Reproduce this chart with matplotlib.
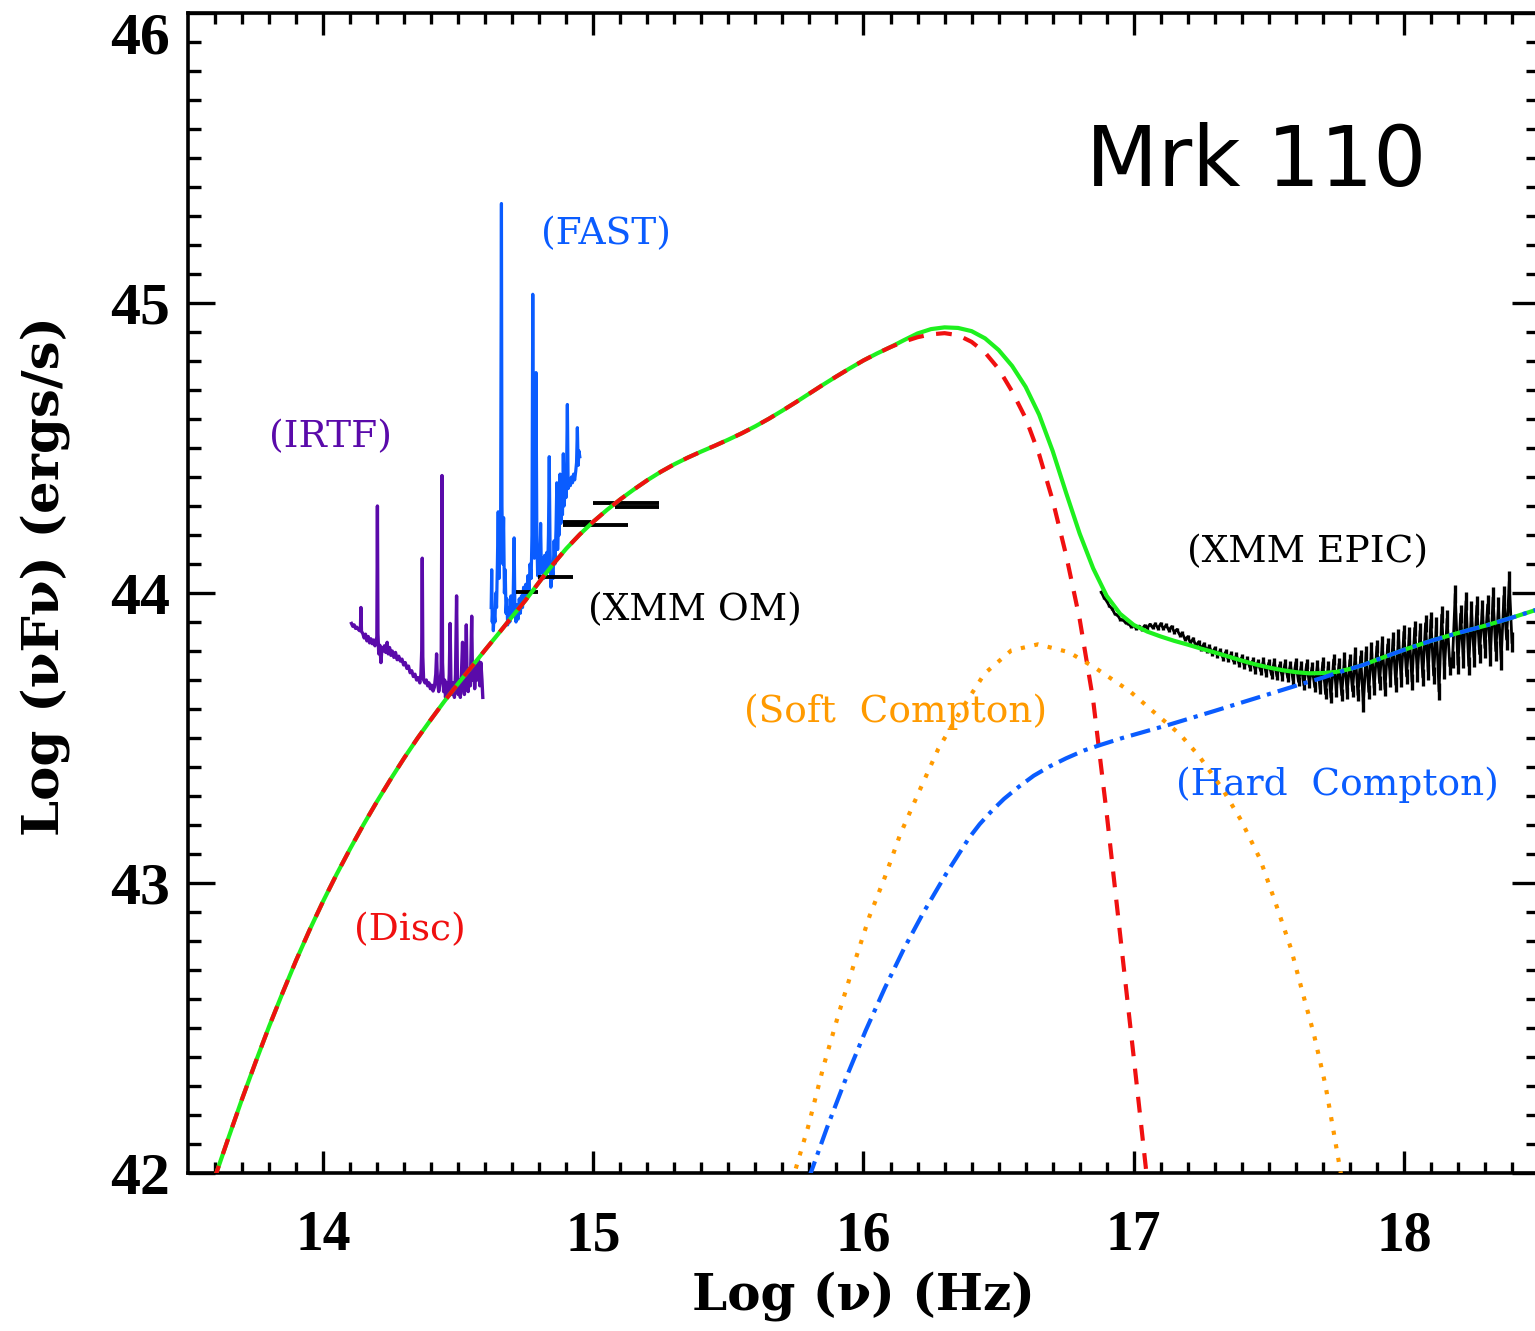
import numpy as np
import matplotlib
matplotlib.use("Agg")
import matplotlib.pyplot as plt

# ---------------- model components: log(nu) [Hz], log(nu F_nu) [erg/s] ----------------
disc_x = [13.595, 13.65, 13.70, 13.75, 13.80, 13.85, 13.90, 13.95, 14.00, 14.05,
          14.10, 14.15, 14.20, 14.25, 14.30, 14.35, 14.40, 14.45, 14.50, 14.55,
          14.60, 14.65, 14.70, 14.75, 14.80, 14.85, 14.90, 14.95, 15.00, 15.05,
          15.10, 15.15, 15.20, 15.25, 15.30, 15.35, 15.40, 15.45, 15.50, 15.55,
          15.60, 15.65, 15.70, 15.75, 15.80, 15.85, 15.90, 15.95, 16.00, 16.05,
          16.10, 16.15, 16.20, 16.25, 16.30, 16.35, 16.40, 16.45, 16.50, 16.55,
          16.60, 16.65, 16.70, 16.75, 16.80, 16.85, 16.90, 16.95, 17.00, 17.04,
          17.05]
disc_y = [41.973, 42.122, 42.255, 42.382, 42.505, 42.621, 42.733, 42.838, 42.937, 43.030,
          43.118, 43.202, 43.282, 43.358, 43.431, 43.500, 43.565, 43.628, 43.688, 43.746,
          43.804, 43.861, 43.919, 43.976, 44.038, 44.098, 44.153, 44.202, 44.246, 44.286,
          44.323, 44.357, 44.389, 44.418, 44.444, 44.467, 44.488, 44.508, 44.529, 44.551,
          44.575, 44.601, 44.629, 44.658, 44.688, 44.718, 44.747, 44.775, 44.802, 44.826,
          44.848, 44.867, 44.882, 44.892, 44.896, 44.889, 44.866, 44.829, 44.773, 44.695,
          44.603, 44.478, 44.320, 44.130, 43.910, 43.630, 43.240, 42.820, 42.400, 42.060,
          41.975]

total_x = disc_x[:51] + [16.15, 16.20, 16.25, 16.30, 16.35, 16.40, 16.45, 16.50, 16.55, 16.60,
                         16.65, 16.70, 16.75, 16.80, 16.85, 16.90, 16.95, 17.00, 17.05, 17.10,
                         17.15, 17.20, 17.25, 17.30, 17.35, 17.40, 17.45, 17.50, 17.55, 17.60,
                         17.65, 17.70, 17.75, 17.80, 17.85, 17.90, 17.95, 18.00, 18.10, 18.20,
                         18.30, 18.40, 18.50]
total_y = disc_y[:51] + [44.872, 44.895, 44.910, 44.916, 44.914, 44.903, 44.878, 44.838, 44.783, 44.711,
                         44.615, 44.490, 44.345, 44.205, 44.085, 43.990, 43.928, 43.890, 43.867, 43.850,
                         43.835, 43.822, 43.808, 43.795, 43.781, 43.767, 43.754, 43.743, 43.734, 43.727,
                         43.723, 43.724, 43.728, 43.738, 43.752, 43.770, 43.787, 43.804, 43.835, 43.862,
                         43.887, 43.915, 43.945]

soft_x = [15.735, 15.795, 15.852, 15.909, 15.966, 16.022, 16.079, 16.136, 16.206, 16.277,
          16.363, 16.448, 16.547, 16.646, 16.760, 16.859, 16.986, 17.085, 17.171, 17.241,
          17.326, 17.397, 17.468, 17.524, 17.582, 17.624, 17.667, 17.709, 17.737, 17.770]
soft_y = [41.97, 42.159, 42.368, 42.552, 42.724, 42.885, 43.020, 43.168, 43.316, 43.463,
          43.599, 43.722, 43.802, 43.823, 43.796, 43.741, 43.661, 43.581, 43.513, 43.439,
          43.328, 43.217, 43.082, 42.934, 42.774, 42.626, 42.478, 42.306, 42.158, 41.98]

hard_x = [15.795, 15.866, 15.937, 16.008, 16.079, 16.150, 16.221, 16.306, 16.391, 16.430,
          16.476, 16.520, 16.575, 16.630, 16.689, 16.750, 16.816, 16.880, 16.958, 17.128,
          17.298, 17.468, 17.638, 17.700, 17.750, 17.800, 17.850, 17.900, 17.950, 18.000,
          18.100, 18.200, 18.300, 18.400, 18.500]
hard_y = [41.975, 42.159, 42.331, 42.491, 42.638, 42.774, 42.897, 43.032, 43.156, 43.203,
          43.250, 43.290, 43.332, 43.370, 43.402, 43.430, 43.457, 43.477, 43.500, 43.545,
          43.593, 43.642, 43.691, 43.708, 43.724, 43.738, 43.752, 43.770, 43.787, 43.804,
          43.835, 43.862, 43.887, 43.915, 43.945]

# ---------------- IRTF near-IR spectrum ----------------
irtf_x = [14.105, 14.110, 14.115, 14.120, 14.125, 14.130, 14.135, 14.138, 14.140, 14.142,
          14.147, 14.152, 14.157, 14.162, 14.167, 14.172, 14.177, 14.182, 14.187, 14.192,
          14.196, 14.199, 14.201, 14.203, 14.206, 14.210, 14.214, 14.218, 14.222, 14.227,
          14.232, 14.237, 14.241, 14.246, 14.251, 14.256, 14.262, 14.268, 14.274, 14.280,
          14.286, 14.292, 14.298, 14.304, 14.310, 14.316, 14.322, 14.328, 14.334, 14.340,
          14.346, 14.352, 14.358, 14.362, 14.365, 14.367, 14.369, 14.372, 14.377, 14.382,
          14.387, 14.392, 14.397, 14.402, 14.407, 14.412, 14.417, 14.420, 14.423, 14.428,
          14.433, 14.437, 14.440, 14.442, 14.446, 14.450, 14.453, 14.458, 14.463, 14.467,
          14.470, 14.473, 14.477, 14.482, 14.486, 14.490, 14.494, 14.497, 14.500, 14.504,
          14.508, 14.512, 14.516, 14.519, 14.523, 14.527, 14.530, 14.533, 14.537, 14.541,
          14.545, 14.550, 14.553, 14.557, 14.561, 14.566, 14.570, 14.575, 14.580, 14.584,
          14.588, 14.591]
irtf_y = [43.895, 43.885, 43.890, 43.878, 43.882, 43.875, 43.870, 43.872, 43.950, 43.868,
          43.860, 43.845, 43.858, 43.835, 43.850, 43.828, 43.842, 43.825, 43.838, 43.818,
          43.830, 43.850, 44.300, 43.860, 43.790, 43.820, 43.760, 43.812, 43.800, 43.818,
          43.795, 43.830, 43.790, 43.812, 43.785, 43.800, 43.778, 43.795, 43.770, 43.782,
          43.765, 43.772, 43.752, 43.760, 43.740, 43.748, 43.725, 43.732, 43.712, 43.720,
          43.700, 43.708, 43.690, 43.720, 43.800, 44.120, 43.780, 43.700, 43.690, 43.700,
          43.680, 43.690, 43.670, 43.682, 43.662, 43.676, 43.720, 43.790, 43.700, 43.660,
          43.690, 43.740, 44.405, 43.760, 43.660, 43.700, 43.640, 43.690, 43.650, 43.720,
          43.895, 43.700, 43.650, 43.690, 43.640, 43.720, 43.990, 43.720, 43.650, 43.700,
          43.640, 43.720, 43.830, 43.680, 43.650, 43.720, 43.890, 43.700, 43.660, 43.740,
          43.680, 43.920, 43.700, 43.760, 43.670, 43.750, 43.700, 43.770, 43.680, 43.760,
          43.700, 43.640]

# ---------------- FAST optical spectrum ----------------
fast_x = [14.622, 14.624, 14.626, 14.628, 14.630, 14.633, 14.636, 14.639, 14.642, 14.645,
          14.648, 14.651, 14.654, 14.657, 14.660, 14.662, 14.665, 14.668, 14.671, 14.674,
          14.677, 14.680, 14.683, 14.687, 14.691, 14.695, 14.699, 14.703, 14.707, 14.710,
          14.714, 14.718, 14.722, 14.726, 14.730, 14.734, 14.738, 14.742, 14.746, 14.750,
          14.754, 14.758, 14.762, 14.766, 14.770, 14.773, 14.776, 14.779, 14.782, 14.785,
          14.788, 14.791, 14.794, 14.798, 14.801, 14.805, 14.808, 14.812, 14.816, 14.820,
          14.824, 14.828, 14.831, 14.834, 14.837, 14.840, 14.843, 14.847, 14.851, 14.855,
          14.858, 14.862, 14.865, 14.868, 14.871, 14.874, 14.877, 14.880, 14.883, 14.886,
          14.889, 14.892, 14.896, 14.900, 14.904, 14.907, 14.911, 14.915, 14.919, 14.923,
          14.927, 14.931, 14.935, 14.938, 14.941, 14.944, 14.947, 14.950]
fast_y = [43.95, 44.08, 43.90, 43.94, 43.87, 43.93, 43.90, 44.00, 43.95, 44.10,
          44.28, 44.05, 44.15, 44.25, 45.343, 44.30, 44.10, 44.26, 44.00, 44.08,
          43.93, 43.98, 43.89, 43.95, 43.90, 43.99, 43.92, 43.96, 44.19, 43.93,
          43.90, 43.96, 43.91, 43.98, 43.93, 43.99, 43.95, 44.02, 43.97, 44.03,
          43.99, 44.06, 44.01, 44.10, 44.05, 44.20, 45.03, 44.25, 44.12, 44.30,
          44.76, 44.20, 44.06, 44.10, 44.05, 44.24, 44.07, 44.12, 44.05, 44.13,
          44.06, 44.14, 44.08, 44.20, 44.47, 44.15, 44.02, 44.10, 44.05, 44.18,
          44.10, 44.22, 44.38, 44.15, 44.25, 44.20, 44.41, 44.24, 44.30, 44.27,
          44.48, 44.30, 44.36, 44.33, 44.65, 44.36, 44.39, 44.37, 44.40, 44.38,
          44.41, 44.39, 44.42, 44.45, 44.57, 44.44, 44.49, 44.47]

# ---------------- XMM Optical Monitor photometry (filter band extent) ----------------
om_lo = [14.714, 14.795, 14.888, 14.888, 14.999, 15.080]
om_hi = [14.795, 14.925, 15.128, 14.990, 15.243, 15.243]
om_y = [44.005, 44.054, 44.234, 44.245, 44.309, 44.296]

# ---------------- XMM EPIC X-ray spectrum (value, 1-sigma half error) ----------------
epic_y = [44.003, 43.984, 43.972, 43.955, 43.946, 43.928, 43.924, 43.909, 43.908, 43.897,
          43.896, 43.884, 43.889, 43.877, 43.886, 43.874, 43.887, 43.879, 43.892, 43.881,
          43.893, 43.878, 43.894, 43.877, 43.889, 43.872, 43.884, 43.866, 43.874, 43.856,
          43.861, 43.840, 43.849, 43.828, 43.842, 43.818, 43.831, 43.808, 43.824, 43.802,
          43.815, 43.793, 43.809, 43.786, 43.801, 43.777, 43.796, 43.771, 43.789, 43.764,
          43.785, 43.756, 43.778, 43.748, 43.771, 43.744, 43.766, 43.735, 43.762, 43.731,
          43.765, 43.724, 43.759, 43.718, 43.762, 43.713, 43.751, 43.712, 43.756, 43.708,
          43.752, 43.698, 43.761, 43.694, 43.748, 43.682, 43.755, 43.690, 43.744, 43.676,
          43.752, 43.668, 43.761, 43.652, 43.748, 43.640, 43.770, 43.661, 43.756, 43.648,
          43.778, 43.655, 43.769, 43.662, 43.792, 43.648, 43.781, 43.612, 43.795, 43.659,
          43.808, 43.672, 43.816, 43.690, 43.829, 43.668, 43.822, 43.701, 43.841, 43.684,
          43.852, 43.702, 43.866, 43.713, 43.858, 43.694, 43.879, 43.721, 43.870, 43.709,
          43.895, 43.728, 43.908, 43.716, 43.889, 43.660, 43.925, 43.733, 43.912, 43.748,
          43.770, 43.998, 43.752, 43.928, 43.771, 43.972, 43.749, 43.941, 43.778, 43.956,
          43.790, 43.945, 43.810, 43.960, 43.780, 43.985, 43.800, 43.950, 43.770, 43.990,
          43.840, 44.040, 43.830]
epic_err = [0.004, 0.005, 0.004, 0.004, 0.005, 0.004, 0.005, 0.004, 0.004, 0.005,
            0.005, 0.004, 0.005, 0.005, 0.004, 0.005, 0.005, 0.005, 0.005, 0.006,
            0.006, 0.005, 0.006, 0.006, 0.006, 0.006, 0.006, 0.007, 0.006, 0.007,
            0.007, 0.007, 0.007, 0.008, 0.007, 0.008, 0.008, 0.008, 0.008, 0.009,
            0.009, 0.009, 0.009, 0.010, 0.009, 0.010, 0.010, 0.010, 0.011, 0.010,
            0.011, 0.011, 0.012, 0.011, 0.012, 0.012, 0.012, 0.013, 0.012, 0.013,
            0.013, 0.013, 0.014, 0.013, 0.014, 0.014, 0.015, 0.014, 0.015, 0.015,
            0.015, 0.016, 0.015, 0.016, 0.016, 0.017, 0.016, 0.017, 0.017, 0.018,
            0.018, 0.017, 0.018, 0.019, 0.018, 0.019, 0.019, 0.020, 0.019, 0.020,
            0.020, 0.021, 0.020, 0.021, 0.021, 0.022, 0.021, 0.022, 0.022, 0.023,
            0.023, 0.022, 0.023, 0.024, 0.023, 0.024, 0.024, 0.025, 0.024, 0.025,
            0.025, 0.026, 0.025, 0.026, 0.026, 0.027, 0.026, 0.027, 0.027, 0.028,
            0.028, 0.027, 0.028, 0.029, 0.028, 0.029, 0.029, 0.030, 0.029, 0.030,
            0.030, 0.031, 0.030, 0.031, 0.031, 0.032, 0.031, 0.032, 0.032, 0.033,
            0.033, 0.032, 0.033, 0.034, 0.033, 0.034, 0.034, 0.035, 0.034, 0.035,
            0.035, 0.036, 0.035]
epic_x = np.linspace(16.88, 18.40, len(epic_y))

# ---------------- colours ----------------
c_total = '#1ef01e'
c_disc = '#f01010'
c_soft = '#ff9a00'
c_hard = '#0a5cff'
c_irtf = '#5a0aaa'
c_fast = '#0a5cff'

W, H = 1535, 1331
fig = plt.figure(figsize=(W / 100, H / 100), dpi=100)
ax = fig.add_axes([188 / W, (H - 1173) / H, (1539 - 188) / W, (1173 - 13) / H])

# observed data
ax.plot(irtf_x, irtf_y, color=c_irtf, lw=2.4, zorder=2)
ax.plot(fast_x, fast_y, color=c_fast, lw=2.3, zorder=2)
ax.hlines(om_y, om_lo, om_hi, color='black', lw=2.8, zorder=2)
ey = np.array(epic_y)
ee = np.array(epic_err)
ax.vlines(epic_x, ey - ee, ey + ee, color='black', lw=2.4, zorder=2)
ax.plot(epic_x, epic_y, color='black', lw=2.0, zorder=2)

# model components
ax.plot(total_x, total_y, color=c_total, lw=3.0, zorder=3)
ax.plot(disc_x, disc_y, color=c_disc, lw=3.0, dashes=(3.8, 3.0), zorder=4)
ax.plot(soft_x, soft_y, color=c_soft, lw=3.0, dashes=(1.0, 2.3), zorder=4)
ax.plot(hard_x, hard_y, color=c_hard, lw=3.0, dashes=(4.8, 1.7, 1.0, 1.7), zorder=4)

ax.set_xlim(13.5, 18.5)
ax.set_ylim(42, 46)
ax.set_xticks([14, 15, 16, 17, 18])
ax.set_yticks([42, 43, 44, 45, 46])
ax.set_xticks(np.arange(13.6, 18.5, 0.1), minor=True)
ax.set_yticks(np.arange(42.1, 46.0, 0.1), minor=True)

for s in ax.spines.values():
    s.set_linewidth(2.6)
ax.tick_params(which='both', direction='in', top=True, right=True, width=2.4)
ax.tick_params(axis='x', which='major', length=16, pad=27)
ax.tick_params(axis='x', which='minor', length=8)
ax.tick_params(axis='y', which='major', length=19.5, pad=13)
ax.tick_params(axis='y', which='minor', length=9.5)

for lab in ax.get_xticklabels():
    lab.set_fontfamily('Liberation Serif')
    lab.set_fontweight('bold')
    lab.set_fontsize(40)
for lab in ax.get_yticklabels():
    lab.set_fontfamily('Liberation Serif')
    lab.set_fontweight('bold')
    lab.set_fontsize(43)
# keep the topmost value label inside the canvas
ax.get_yticklabels()[-1].set_verticalalignment('top')

ax.set_xlabel('Log (ν) (Hz)', family='DejaVu Serif', weight='bold', size=36, labelpad=6)
ax.set_ylabel('Log (νFν) (ergs/s)', family='DejaVu Serif', weight='bold', size=37)
ax.yaxis.set_label_coords(-0.087, 0.515)

lab_font = dict(family='DejaVu Serif', size=27, ha='center', va='center')
ax.text(17.452, 45.483, 'Mrk 110', family='DejaVu Sans', size=60, ha='center', va='center')
ax.text(14.026, 44.538, '(IRTF)', color=c_irtf, **lab_font)
ax.text(15.047, 45.238, '(FAST)', color=c_fast, **lab_font)
ax.text(15.376, 43.941, '(XMM OM)', color='black', **lab_font)
ax.text(17.642, 44.141, '(XMM EPIC)', color='black', **lab_font)
ax.text(16.118, 43.590, '(Soft  Compton)', color=c_soft, **lab_font)
ax.text(17.753, 43.338, '(Hard  Compton)', color=c_hard, **lab_font)
ax.text(14.322, 42.838, '(Disc)', color=c_disc, **lab_font)

fig.savefig('out.png', dpi=100)
